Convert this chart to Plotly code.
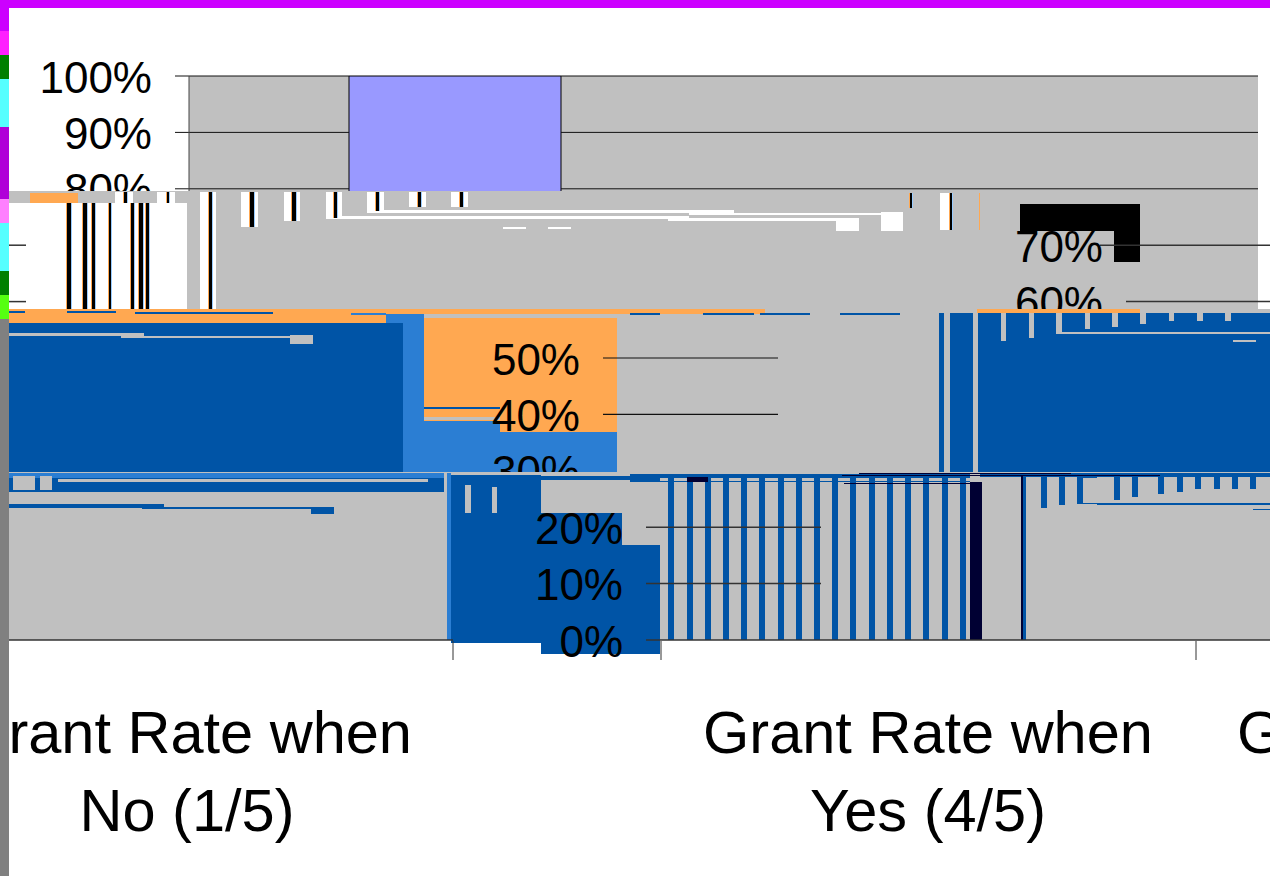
import plotly.graph_objects as go

# ---- chart content ----
CATEGORY_LABELS = ["Grant Rate when<br>No (1/5)", "Grant Rate when<br>Yes (4/5)", "Grant Rate when<br> "]
BAND1_TICKS = [100, 90, 80]
BAND2_TICKS = [70, 60]
BAND3_TICKS = [50, 40, 30]
BAND4_TICKS = [20, 10, 0]
PURPLE_BAR_VALUE = [100]

GRAY, WHITE, BLACK = "#C0C0C0", "#FFFFFF", "#000000"
PURPLE, ORANGE = "#9999FF", "#FFA851"
BLUE, MID, NAVY = "#0054A6", "#2B7ED3", "#000033"
ZERO_PX, PX_PER_PCT = 640.0, 5.64


def pct(y_px):
    return (ZERO_PX - y_px) / PX_PER_PCT


# Displaced image bands: (top, bottom) on the page
BANDS = [(8, 191), (191, 309), (309, 472), (472, 660), (660, 876), (0, 876)]

# fragments: colour, [(x0, x1, top, bottom), ...]  in reading units of the picture
B1 = [
    (WHITE, [(9, 1270, 8, 191)]),
    (GRAY, [(189, 1258, 76, 191)]),
]
B2_LINES = [(67, 71, 203, 309), (83, 87, 203, 309), (92, 95, 203, 309),
            (109, 111, 203, 309), (131, 134, 203, 309), (139, 143, 203, 309),
            (146, 149, 203, 309), (124, 127, 192, 203), (167, 169, 192, 203),
            (209, 212, 192, 309), (250, 254, 192, 227), (292, 296, 192, 221),
            (334, 337, 192, 218), (376, 379, 192, 211), (418, 421, 192, 207),
            (460, 463, 192, 207), (910, 912, 193, 208), (950, 952, 193, 230)]
B2 = [
    (GRAY, [(9, 1258, 191, 309)]),
    (WHITE, [(9, 187, 203, 309), (115, 133, 192, 203), (157, 175, 192, 203),
             (200, 216, 192, 309), (241, 258, 192, 227), (284, 300, 192, 221),
             (326, 342, 192, 219), (367, 384, 192, 213), (409, 426, 192, 207),
             (451, 468, 192, 207), (326, 689, 216, 219), (367, 734, 210, 213),
             (668, 836, 218, 221), (689, 881, 213, 215), (836, 859, 218, 231),
             (881, 903, 212, 231), (940, 952, 193, 230), (503, 526, 227, 229),
             (548, 571, 227, 229), (1258, 1270, 198, 309)]),
    (ORANGE, [(30, 78, 193, 203), (979, 980, 193, 230)]),
    (ORANGE, [(b[0] - 1, b[0], b[2], b[3]) for b in B2_LINES]),
    ("#99CCFF", [(b[1], b[1] + 1, b[2], b[3]) for b in B2_LINES]),
    (BLACK, B2_LINES),
    (BLACK, [(1022, 1140, 204, 231), (1114, 1140, 231, 262), (1020, 1022, 204, 231)]),
]
B3 = [
    (GRAY, [(9, 1270, 309, 472)]),
    (ORANGE, [(9, 386, 309, 324), (386, 765, 309, 314), (977, 1140, 309, 313),
              (424, 617, 318, 432), (1253, 1270, 313, 321)]),
    (BLUE, [(9, 403, 323, 473), (939, 944, 313, 473), (950, 973, 313, 473), (978, 1270, 313, 473)]),
    (MID, [(386, 424, 314, 323), (403, 424, 323, 473), (351, 386, 313, 315),
           (424, 500, 421, 472), (500, 617, 432, 472)]),
    (BLUE, [(424, 500, 407, 409), (9, 25, 311, 313), (67, 116, 311, 313), (135, 273, 312, 314),
            (630, 660, 313, 315), (703, 754, 313, 315), (760, 810, 313, 315), (840, 900, 313, 315)]),
    (GRAY, [(424, 500, 417, 420), (9, 144, 333, 336), (121, 290, 336, 338), (290, 313, 335, 344),
            (433, 494, 314, 318), (1001, 1006, 313, 341), (1029, 1034, 313, 338),
            (1056, 1062, 313, 334), (1056, 1270, 332, 334), (1085, 1090, 313, 329),
            (1112, 1118, 313, 327), (1140, 1146, 313, 324), (1169, 1174, 313, 321),
            (1197, 1203, 313, 321), (1225, 1231, 313, 321), (1233, 1256, 340, 342)]),
]
B4_STRIPES = [668, 687, 705, 723, 741, 759, 778, 796, 814, 832, 850, 869, 887, 905, 923, 942, 960]
B4_DROPS = [(1041, 508), (1059, 505), (1114, 500), (1132, 497), (1158, 494), (1177, 492),
            (1195, 489), (1214, 489), (1232, 489), (1250, 489)]
B4 = [
    (GRAY, [(9, 1270, 472, 640)]),
    (WHITE, [(9, 1270, 641, 660), (444, 660, 643, 660)]),
    (BLUE, [(9, 444, 473, 492), (9, 164, 504, 508), (142, 311, 507, 509), (311, 334, 507, 514),
            (451, 541, 475, 643), (541, 622, 513, 545), (541, 660, 545, 654),
            (541, 660, 476, 480), (630, 970, 474, 482)]),
    (MID, [(9, 444, 473, 478), (447, 451, 473, 640)]),
    (GRAY, [(13, 35, 476, 490), (40, 52, 476, 490), (58, 428, 479, 482),
            (465, 471, 485, 513), (492, 497, 487, 513), (660, 970, 478, 481)]),
    (BLUE, [(x, x + 6, 476, 640) for x in B4_STRIPES]),
    (NAVY, [(970, 982, 482, 640), (687, 708, 477, 482)]),
    (BLUE, [(x, x + 6, 473, y) for x, y in B4_DROPS]),
    (BLUE, [(1077, 1097, 473, 504), (1097, 1270, 503, 505), (1253, 1270, 509, 510),
            (980, 1270, 473, 477), (1021, 1026, 475, 640)]),
    (GRAY, [(1083, 1097, 478, 503)]),
    (NAVY, [(1021, 1023, 475, 640), (859, 1071, 473, 474), (842, 1160, 475, 476), (844, 971, 483, 484)]),
]
B5 = [(WHITE, [(9, 1270, 660, 876)])]
STRIP_ROWS = [(0, 31, "#CC00FF"), (31, 55, "#FF20FF"), (55, 79, "#008000"), (79, 127, "#55FFFF"),
              (127, 199, "#B000D8"), (199, 223, "#FF80FF"), (223, 271, "#55FFFF"),
              (271, 295, "#008000"), (295, 319, "#55FF11"), (319, 876, "#808080")]

fig = go.Figure()
layout = dict(width=1270, height=876, margin=dict(l=0, r=0, t=0, b=0), barmode="overlay",
              paper_bgcolor="white", plot_bgcolor="rgba(0,0,0,0)", showlegend=False,
              font=dict(family="Liberation Sans", color="black"), hovermode=False)

for i, (top, bot) in enumerate(BANDS, start=1):
    layout[f"xaxis{i}"] = dict(domain=[0, 1], range=[0, 1270], visible=False, anchor=f"y{i}", fixedrange=True)
    layout[f"yaxis{i}"] = dict(domain=[1 - bot / 876, 1 - top / 876], range=[pct(bot), pct(top)],
                               visible=False, anchor=f"x{i}", fixedrange=True)


def add_frags(i, frags):
    for color, boxes in frags:
        fig.add_trace(go.Bar(
            x=[(b[0] + b[1]) / 2 for b in boxes], width=[b[1] - b[0] for b in boxes],
            base=[pct(b[3]) for b in boxes], y=[pct(b[2]) - pct(b[3]) for b in boxes],
            marker=dict(color=color, line=dict(width=0)), xaxis=f"x{i}", yaxis=f"y{i}"))


def add_lines(i, segs, width=1.0, color="#111111"):
    xs, ys = [], []
    for x0, x1, v in segs:
        xs += [x0, x1, None]
        ys += [v, v, None]
    fig.add_trace(go.Scatter(x=xs, y=ys, mode="lines", line=dict(color=color, width=width),
                             xaxis=f"x{i}", yaxis=f"y{i}"))


def add_labels(i, ticks, right):
    fig.add_trace(go.Scatter(x=[right] * len(ticks), y=[t - 1.0 for t in ticks],
                             text=[f"{t}%" for t in ticks], mode="text", textposition="middle left",
                             textfont=dict(size=44, family="Liberation Sans", color="black"),
                             xaxis=f"x{i}", yaxis=f"y{i}"))


# band 1
add_frags(1, B1)
fig.add_trace(go.Bar(x=[455], width=[212], y=PURPLE_BAR_VALUE, base=[0],
                     marker=dict(color=PURPLE, line=dict(color="black", width=1)), xaxis="x1", yaxis="y1"))
add_lines(1, [(175, 349, 100), (561, 1258, 100), (175, 349, 90), (561, 1258, 90),
              (175, 349, 80), (561, 1258, 80)])
fig.add_trace(go.Scatter(x=[189, 189], y=[pct(76), pct(191)], mode="lines",
                         line=dict(color="#444444", width=1), xaxis="x1", yaxis="y1"))
add_labels(1, BAND1_TICKS, 152)

# band 2
add_frags(2, B2)
add_lines(2, [(1100, 1270, 70), (1126, 1270, 60), (9, 26, 70), (9, 26, 60)], 1.5, "#333333")
add_labels(2, BAND2_TICKS, 1103)

# band 3
add_frags(3, B3)
add_lines(3, [(603, 778, 50), (603, 778, 40)], 1.2, "#111111")
add_labels(3, BAND3_TICKS, 580)

# band 4
add_frags(4, B4)
add_lines(4, [(646, 821, 20), (646, 821, 10), (9, 453, 0), (646, 1270, 0)], 1.5, "#333333")
fig.add_trace(go.Scatter(x=[453, 453, None, 661, 661, None, 1196, 1196],
                         y=[pct(641), pct(662), None, pct(641), pct(662), None, pct(641), pct(662)],
                         mode="lines", line=dict(color="#333333", width=1), xaxis="x4", yaxis="y4"))
add_labels(4, BAND4_TICKS, 623)

# band 5: category labels
add_frags(5, B5)
fig.add_trace(go.Scatter(x=[187, 928, 1462], y=[pct(777)] * 3, text=CATEGORY_LABELS, mode="text",
                         textposition="middle center",
                         textfont=dict(size=59.5, family="Liberation Sans", color="black"),
                         xaxis="x5", yaxis="y5"))

# corrupted colour strips along the top and left edge
add_frags(6, [(c, [(0, 9, t, b)]) for t, b, c in STRIP_ROWS])
add_frags(6, [("#CC00FF", [(0, 1270, 0, 8)])])

fig.update_layout(**layout)
fig.write_html("out.html", config=dict(displayModeBar=False),
               post_script="document.body.style.margin='0';document.body.style.overflow='hidden';")
